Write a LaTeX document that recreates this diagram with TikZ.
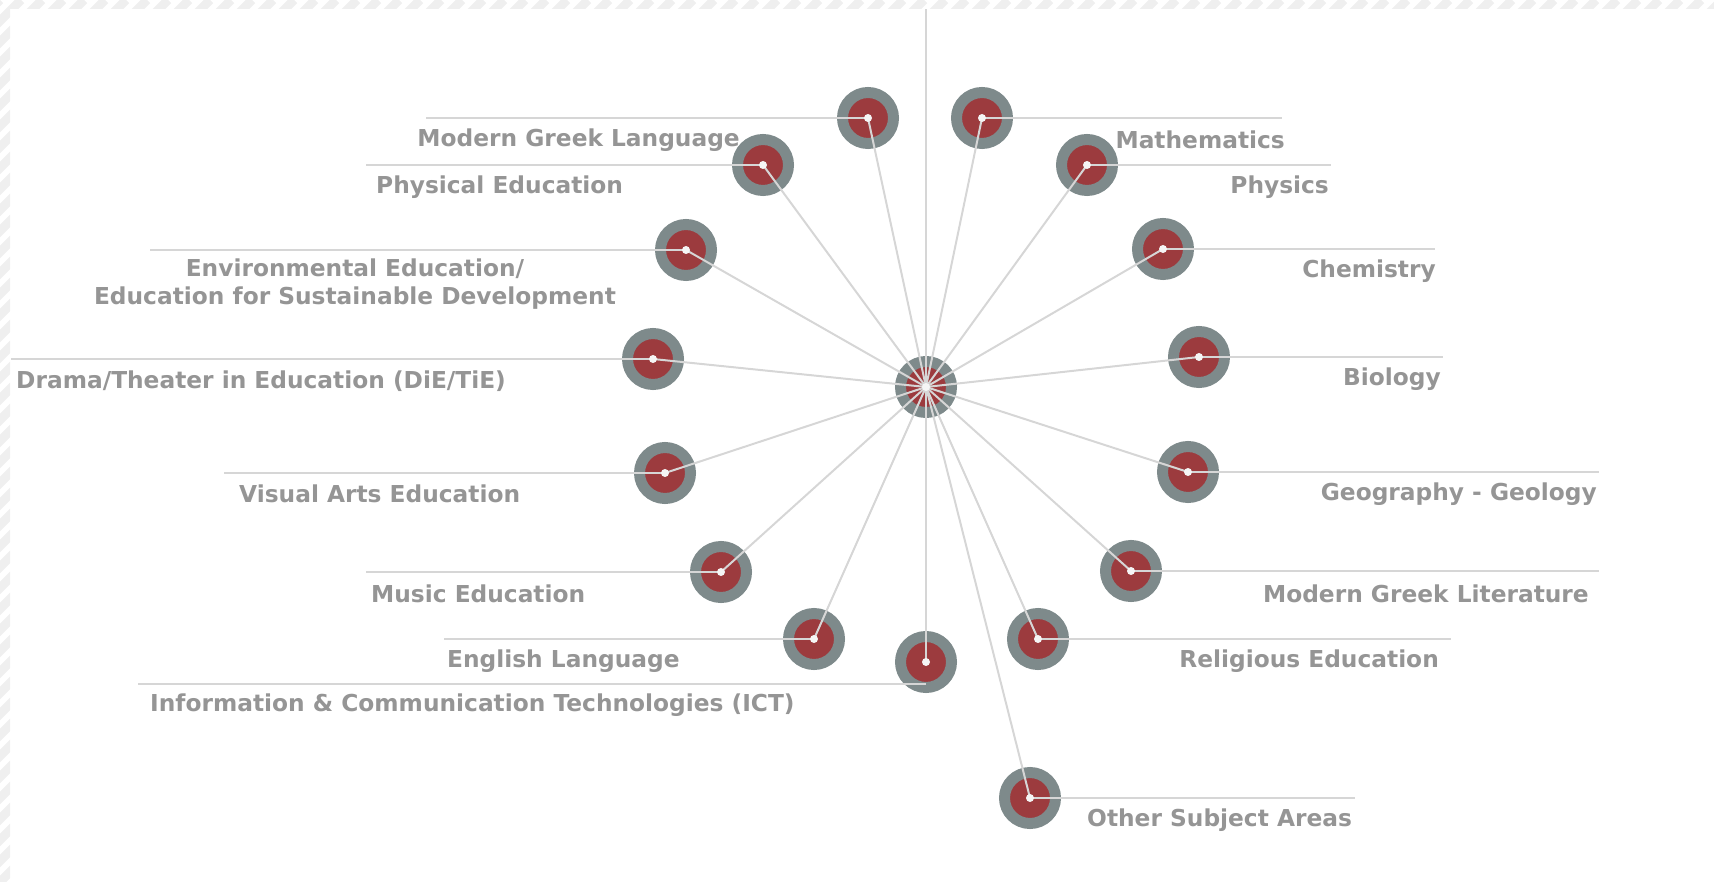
\documentclass[tikz,border=0pt]{standalone}
\usepackage{fontspec}
\setmainfont{DejaVu Sans}
\usetikzlibrary{positioning}
\definecolor{ring_gray}{HTML}{7E8A8B}
\definecolor{core_red}{HTML}{9C3B3E}
\definecolor{spoke_gray}{HTML}{D6D6D6}
\definecolor{label_gray}{HTML}{959595}
\definecolor{hatch_gray}{HTML}{EFEFEF}

\begin{document}
\begin{tikzpicture}[x=1pt, y=-1pt]
	\tikzset{
		subject/.style={circle, fill=core_red, draw=ring_gray, line width=11pt, minimum size=51pt, inner sep=0pt}, % grey ring round a red disc
		pin/.style={circle, fill=white!92!gray, minimum size=8pt, inner sep=0pt}, % small light dot in the middle
		wire/.style={draw=spoke_gray, line width=2pt}, % spokes and leader lines
	}
	\tikzstyle{tag} = [text=label_gray, font=\bfseries\fontsize{23.3}{28}\selectfont, inner sep=0pt]
	\useasboundingbox (0,0) rectangle (1714,882);
	% hatched frame, top and left
	\begin{scope}
		\clip (0,0) rectangle (1714,9) (0,0) rectangle (10,882);
		\foreach \x in {-900,-879,...,1720}
			\draw[hatch_gray, line width=9pt] (\x,900) -- (\x+900,0);
	\end{scope}
	% the discs
	\node[subject] (hub) at (926,387) {};
	\node[subject] (mgl) at (868,118) {};
	\node[subject] (math) at (982,118) {};
	\node[subject] (phys-ed) at (763,165) {};
	\node[subject] (physics) at (1087,165) {};
	\node[subject] (env) at (686,250) {};
	\node[subject] (chem) at (1163,249) {};
	\node[subject] (drama) at (653,359) {};
	\node[subject] (bio) at (1199,357) {};
	\node[subject] (visual) at (665,473) {};
	\node[subject] (geo) at (1188,472) {};
	\node[subject] (music) at (721,572) {};
	\node[subject] (mglit) at (1131,571) {};
	\node[subject] (english) at (814,639) {};
	\node[subject] (relig) at (1038,639) {};
	\node[subject] (ict) at (926,662) {};
	\node[subject] (other) at (1030,798) {};
	% free ends of the leader lines
	\coordinate (top) at (926,9);
	\coordinate (mgl-end) at (426,118);
	\coordinate (math-end) at (1282,118);
	\coordinate (phys-ed-end) at (366,165);
	\coordinate (physics-end) at (1331,165);
	\coordinate (env-end) at (150,250);
	\coordinate (chem-end) at (1435,249);
	\coordinate (drama-end) at (11,359);
	\coordinate (bio-end) at (1443,357);
	\coordinate (visual-end) at (224,473);
	\coordinate (geo-end) at (1599,472);
	\coordinate (music-end) at (366,572);
	\coordinate (mglit-end) at (1599,571);
	\coordinate (english-end) at (444,639);
	\coordinate (relig-end) at (1451,639);
	\coordinate (ict-end) at (138,684);
	\coordinate (other-end) at (1355,798);
	% spokes and leaders
	\draw[wire] (hub.center) -- (top);
	\draw[wire] (ict-end) -- (ict-end -| ict.center);
	\foreach \s in {mgl, math, phys-ed, physics, env, chem, drama, bio, visual, geo, music, mglit, english, relig, other} {
		\draw[wire] (hub.center) -- (\s.center);
		\draw[wire] (\s.center) -- (\s-end);
	}
	\draw[wire] (hub.center) -- (ict.center);
	\foreach \s in {hub, mgl, math, phys-ed, physics, env, chem, drama, bio, visual, geo, music, mglit, english, relig, ict, other}
		\node[pin] (\s-pin) at (\s.center) {};
	% labels
	\node[tag, anchor=east] (mgl-tag) at (740,140) {Modern Greek Language};
	\node[tag, anchor=east] (math-tag) at (1285,140) {Mathematics};
	\node[tag, anchor=west] (phys-ed-tag) at (376,187) {Physical Education};
	\node[tag, anchor=east] (physics-tag) at (1329,187) {Physics};
	\node[tag, align=center] (env-tag) at (355,284) {Environmental Education/\\Education for Sustainable Development};
	\node[tag, anchor=east] (chem-tag) at (1436,271) {Chemistry};
	\node[tag, anchor=west] (drama-tag) at (16,381) {Drama/Theater in Education (DiE/TiE)};
	\node[tag, anchor=east] (bio-tag) at (1441,379) {Biology};
	\node[tag, anchor=west] (visual-tag) at (239,494) {Visual Arts Education};
	\node[tag, anchor=east] (geo-tag) at (1597,494) {Geography - Geology};
	\node[tag, anchor=west] (music-tag) at (371,594) {Music Education};
	\node[tag, anchor=east] (mglit-tag) at (1589,594) {Modern Greek Literature};
	\node[tag, anchor=west] (english-tag) at (447,661) {English Language};
	\node[tag, anchor=east] (relig-tag) at (1439,661) {Religious Education};
	\node[tag, anchor=west] (ict-tag) at (150,705) {Information \& Communication Technologies (ICT)};
	\node[tag, anchor=west] (other-tag) at (1087,820) {Other Subject Areas};
\end{tikzpicture}
\end{document}
